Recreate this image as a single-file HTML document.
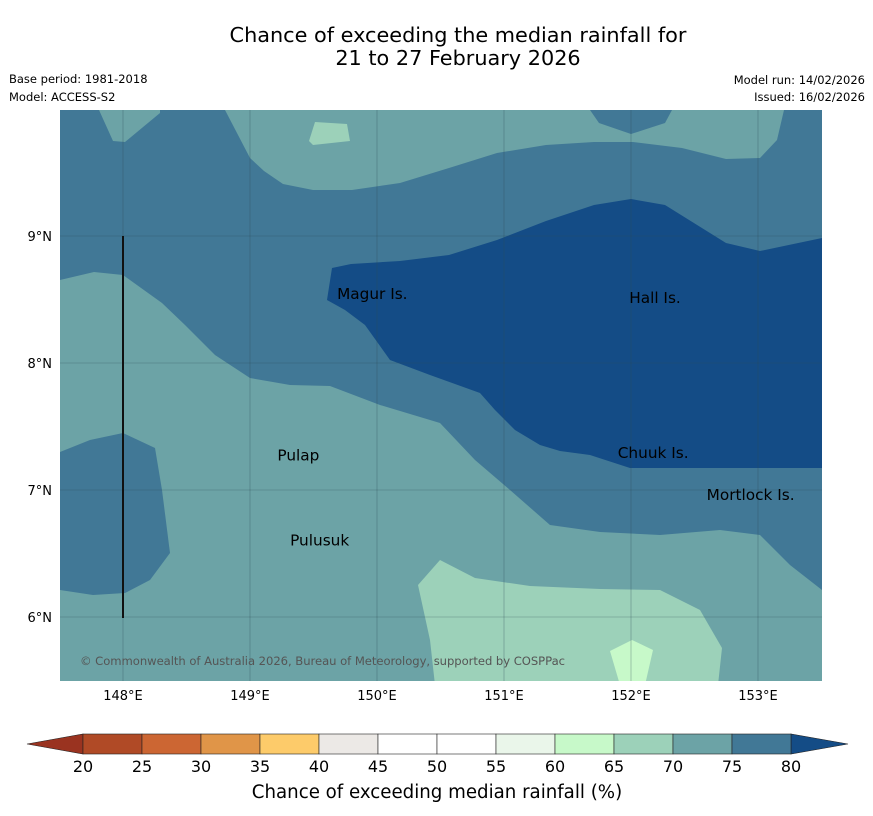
<!DOCTYPE html>
<html><head><meta charset="utf-8"><style>
body{margin:0;background:#fff;font-family:"DejaVu Sans","Liberation Sans",sans-serif}
svg{display:block}
</style></head><body>
<svg width="873" height="816" xmlns="http://www.w3.org/2000/svg">
<text x="458" y="42" font-size="20.8" text-anchor="middle">Chance of exceeding the median rainfall for</text>
<text x="458" y="65" font-size="20.8" text-anchor="middle">21 to 27 February 2026</text>
<text x="9" y="83" font-size="11.5">Base period: 1981-2018</text>
<text x="9" y="101" font-size="11.5">Model: ACCESS-S2</text>
<text x="865" y="84" font-size="11.5" text-anchor="end">Model run: 14/02/2026</text>
<text x="865" y="101" font-size="11.5" text-anchor="end">Issued: 16/02/2026</text>
<defs><clipPath id="mc"><rect x="60" y="110" width="762" height="571"/></clipPath></defs>
<g id="map" clip-path="url(#mc)"></g>
<g id="grid"></g>
<g id="labels"></g>
<text x="80" y="665" font-size="11.6" fill="#555" textLength="485">© Commonwealth of Australia 2026, Bureau of Meteorology, supported by COSPPac</text>
<g id="ticks"></g>
<g id="cbar"></g>
<text x="437" y="798" font-size="18.2" text-anchor="middle">Chance of exceeding median rainfall (%)</text>
</svg>
<script>
const lonTicks=[148,149,150,151,152,153];
const latTicks=[6,7,8,9];
const cbarLevels=[20,25,30,35,40,45,50,55,60,65,70,75,80];
const cbarColors=["#b04a26","#cc6633","#e09548","#fdcb6a","#ece9e6","#ffffff","#ffffff","#eaf6ea","#c7f9c9","#9cd1b9","#6ca3a6","#417896"];
const places=["Magur Is.","Hall Is.","Pulap","Chuuk Is.","Mortlock Is.","Pulusuk"];
const placeLon=[149.67,151.97,149.2,151.88,152.58,149.3];
const placeLat=[8.55,8.52,7.28,7.3,6.97,6.61];
const px=x=>147.5+(x-59.5)/127, py=y=>10-(y-109)/127;
const X=lon=>59.5+(lon-147.5)*127, Y=lat=>109+(10-lat)*127;
const regionLevels=[75,70,75,80,65,65,60];
const regionPix=[
 [[60,110],[822,110],[822,590],[790,565],[760,535],[720,530],[660,535],[600,532],[550,525],[510,490],[475,460],[440,423],[380,405],[330,386],[290,385],[250,378],[215,355],[185,325],[162,303],[123,275],[94,272],[60,280]],
 [[225,110],[250,158],[264,171],[283,184],[313,190],[352,190],[400,183],[449,168],[497,153],[546,145],[594,142],[633,142],[682,148],[726,159],[760,158],[777,140],[784,110],[672,110],[665,123],[631,134],[599,123],[590,110]],
 [[60,452],[90,440],[123,433],[155,448],[162,490],[170,553],[150,580],[125,593],[93,595],[60,590]],
 [[332,268],[351,264],[400,261],[449,255],[497,240],[546,221],[594,205],[631,199],[665,205],[726,243],[760,251],[822,238],[822,468],[700,468],[630,468],[590,455],[560,451],[540,445],[515,430],[495,410],[480,393],[430,375],[390,360],[365,325],[345,310],[327,300]],
 [[315,122],[347,124],[350,141],[313,145],[309,141]],
 [[418,585],[440,560],[475,578],[530,586],[600,589],[660,590],[700,610],[722,648],[718,685],[435,685],[430,640]],
 [[610,651],[632,640],[653,650],[645,685],[620,685]]
];
const teal=[[99,110],[113,141],[125,142],[160,113],[160,110]];
const regions=regionPix.map(r=>r.map(p=>[px(p[0]),py(p[1])]));
const col=l=>l>=80?"#144c86":cbarColors[cbarLevels.indexOf(l)];
const NS="http://www.w3.org/2000/svg";
function mk(t,a,parent){const e=document.createElementNS(NS,t);for(const k in a)e.setAttribute(k,a[k]);parent.appendChild(e);return e;}
const map=document.getElementById('map');
let bg=mk('rect',{x:60,y:110,width:762,height:571,fill:col(70)},map);


regions.forEach((r,i)=>{
 const p=mk('polygon',{points:r.map(q=>X(q[0])+','+Y(q[1])).join(' '),fill:col(regionLevels[i])},map);
 
 
});
let tn=mk('polygon',{points:teal.map(q=>q.join(',')).join(' '),fill:col(70)},map);


const grid=document.getElementById('grid'),ticks=document.getElementById('ticks');
lonTicks.forEach(l=>{
 const g=mk('line',{x1:X(l),x2:X(l),y1:110,y2:681,stroke:"#2d4a55","stroke-width":0.6,"stroke-opacity":0.5},grid);
 
 
 const t=mk('text',{x:X(l),y:700,"font-size":13,"text-anchor":"middle"},ticks);t.textContent=l+'°E';
 
 
});
latTicks.forEach(l=>{
 const g=mk('line',{x1:60,x2:822,y1:Y(l),y2:Y(l),stroke:"#2d4a55","stroke-width":0.6,"stroke-opacity":0.5},grid);
 
 
 const t=mk('text',{x:52,y:Y(l)+5,"font-size":13,"text-anchor":"end"},ticks);t.textContent=l+'°N';
 
 
});
let vl=mk('line',{x1:X(148),x2:X(148),y1:Y(9),y2:Y(6)+1,stroke:"#111","stroke-width":2},grid);


const lab=document.getElementById('labels');
places.forEach((n,i)=>{
 const t=mk('text',{x:X(placeLon[i])+2,y:Y(placeLat[i])+6,"font-size":15.3},lab);t.textContent=n;
 
 
});
const cb=document.getElementById('cbar');
const cx=v=>83+(v-20)*59/5, y0=734,y1=754;
let la=mk('polygon',{points:`27,744 ${cx(20)},${y0} ${cx(20)},${y1}`,fill:"#9a3320",stroke:"#222","stroke-width":0.6},cb);


let ra=mk('polygon',{points:`848,744 ${cx(80)},${y0} ${cx(80)},${y1}`,fill:"#144c86",stroke:"#222","stroke-width":0.6},cb);


cbarColors.forEach((c,i)=>{
 const r=mk('rect',{x:cx(cbarLevels[i]),y:y0,width:cx(cbarLevels[i+1])-cx(cbarLevels[i]),height:y1-y0,fill:c,stroke:"#222","stroke-width":0.6},cb);
 
 
});
cbarLevels.forEach(v=>{
 const t=mk('text',{x:cx(v),y:772,"font-size":16,"text-anchor":"middle"},cb);t.textContent=v;
 
 
});
</script>
</body></html>
